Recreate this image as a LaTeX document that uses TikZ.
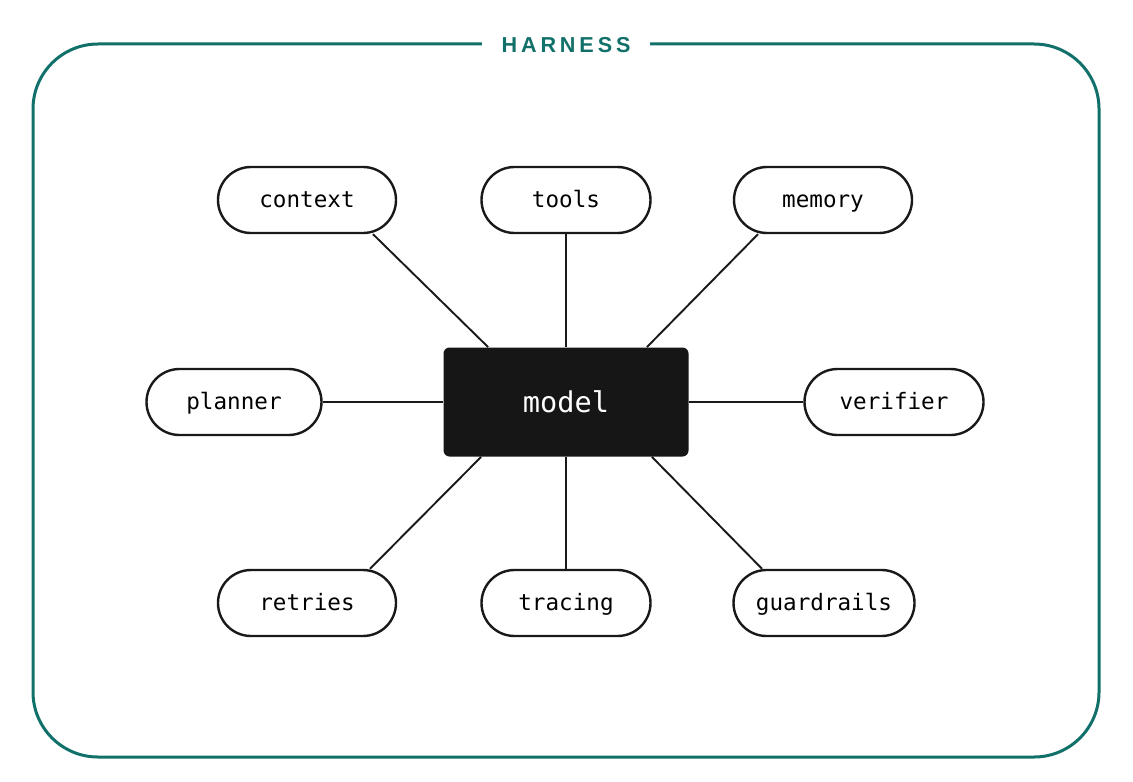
\documentclass[tikz,border=0pt]{standalone}
\usepackage{fontspec}
\setmonofont{DejaVu Sans Mono}
\newfontfamily\titlefont[LetterSpace=18]{Liberation Sans}
\definecolor{harness}{HTML}{11706A}
\definecolor{modelfill}{HTML}{161616}

\begin{document}
\begin{tikzpicture}[x=0.5pt,y=-0.5pt,
    pill/.style={draw=black!90,line width=1.2pt,fill=white,rounded corners=16.5pt,minimum height=33pt,inner sep=0pt,text height=2.1ex,text depth=.3ex,font=\ttfamily\fontsize{11.3}{13}\selectfont},
    core/.style={fill=modelfill,rounded corners=3pt,minimum width=122.5pt,minimum height=54.5pt,inner sep=0pt,text=white,font=\ttfamily\fontsize{14.3}{16}\selectfont},
    link/.style={line width=0.95pt,draw=black!90}]
    \useasboundingbox (0,0) rectangle (1133,781);
    % frame and title
    \draw[harness,line width=1.5pt,rounded corners=32.5pt] (33,44) rectangle (1099,757);
    \node[fill=white,inner xsep=10pt,text=harness,font=\titlefont\bfseries\fontsize{10.8}{12}\selectfont] (title) at (566,45) {HARNESS};
    % the model
    \node[core] (model) at (566,402) {model};
    % the parts round it
    \foreach \name/\x/\y/\w in {context/307/200/89, tools/566/200/84.5, memory/823/200/89,
        planner/234/402/87.5, verifier/894/402/89.5,
        retries/307/603/89, tracing/566/603/84.5, guardrails/824/603/90.5} {
      \node[pill,minimum width=\w pt] (\name) at (\x,\y) {\name};
    }
    \draw[link] ([xshift=33pt]context.south) -- ([xshift=22.5pt]model.north west);
    \draw[link] (tools.south) -- (model.north);
    \draw[link] ([xshift=-32.5pt]memory.south) -- ([xshift=-21pt]model.north east);
    \draw[link] (planner.east) -- (model.west);
    \draw[link] (model.east) -- (verifier.west);
    \draw[link] ([xshift=31.5pt]retries.north) -- ([xshift=19pt]model.south west);
    \draw[link] (tracing.north) -- (model.south);
    \draw[link] ([xshift=-31pt]guardrails.north) -- ([xshift=-18.5pt]model.south east);
  \end{tikzpicture}
\end{document}
